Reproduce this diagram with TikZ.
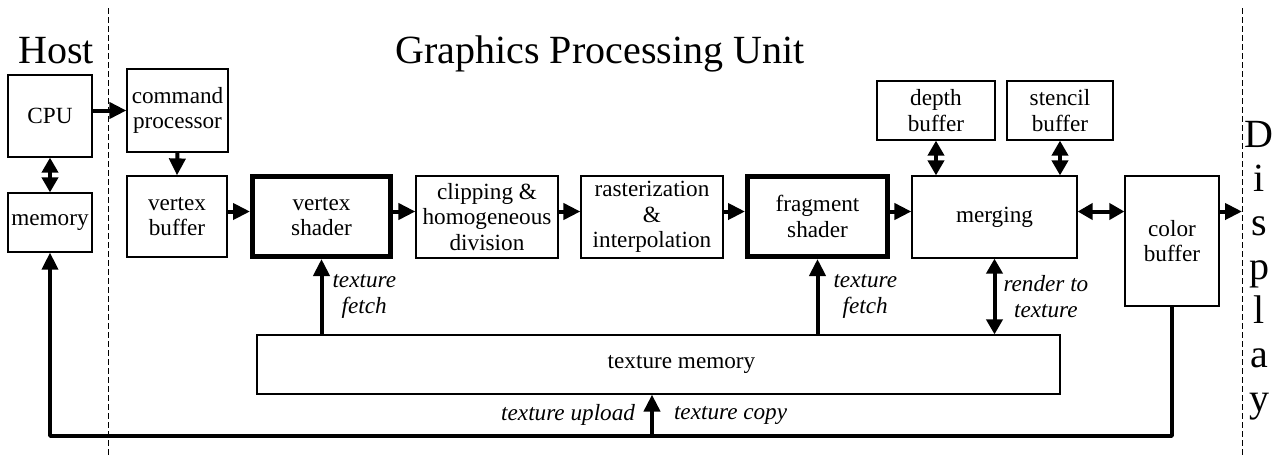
\documentclass[tikz,border=0pt]{standalone}
\usepackage{fontspec}
\setmainfont{Liberation Serif}
\usetikzlibrary{arrows.meta}

\tikzset{
  blk/.style={draw, line width=0.6pt, inner sep=0pt, align=center,
    font=\fontsize{11.6}{12.8}\selectfont},
  shd/.style={blk, line width=2.5pt},
  arr/.style={line width=2pt, -{Triangle[length=8.5pt,width=8pt]}},
  darr/.style={line width=2pt,
    {Triangle[length=7.5pt,width=8pt]}-{Triangle[length=7.5pt,width=8pt]}},
  lbl/.style={inner sep=0pt, align=center,
    font=\fontsize{11.6}{12.8}\selectfont\itshape},
  big/.style={inner sep=0pt, font=\fontsize{20}{24}\selectfont},
  sep/.style={line width=0.5pt, dash pattern=on 3pt off 1.5pt},
}

\begin{document}
\begin{tikzpicture}[x=0.5pt, y=-0.5pt]
\useasboundingbox (0,0) rectangle (1282,457);

% separators and titles
\draw[sep] (108.5,8) -- (108.5,457);
\draw[sep] (1242,8) -- (1242,457);

\node[big, anchor=base] (host) at (56,63) {Host};
\node[big, anchor=base] (gpu) at (600,63) {Graphics Processing Unit};
\foreach \ch [count=\i from 0] in {D,i,s,p,l,a,y}
  \node[big, anchor=base] (dsp\i) at (1259,147+44*\i) {\ch};

% host side
\node[blk, minimum width=42pt, minimum height=41pt] (cpu) at (50,116) {CPU};
\node[blk, minimum width=42pt, minimum height=29.5pt] (mem) at (50,222.5) {memory};

% pipeline
\node[blk, minimum width=50.5pt, minimum height=41.5pt] (cmd) at (177.5,110.5) {command\\processor};
\node[blk, minimum width=50pt, minimum height=40.5pt] (vbuf) at (177,216.5) {vertex\\buffer};
\node[shd, minimum width=69pt, minimum height=40pt] (vsh) at (321.5,216.5) {vertex\\shader};
\node[blk, minimum width=71pt, minimum height=41pt] (clip) at (487,217) {clipping \&\\homogeneous\\division};
\node[blk, minimum width=71pt, minimum height=41pt] (rast) at (652,217) {rasterization\\\&\\interpolation};
\node[shd, minimum width=70pt, minimum height=40pt] (fsh) at (817.5,216.5) {fragment\\shader};
\node[blk, minimum width=82.5pt, minimum height=41pt] (merg) at (994.5,217) {merging};
\node[blk, minimum width=59pt, minimum height=29.5pt] (depth) at (936,110.5) {depth\\buffer};
\node[blk, minimum width=53pt, minimum height=29.5pt] (stencil) at (1060,110.5) {stencil\\buffer};
\node[blk, minimum width=47pt, minimum height=65pt] (color) at (1172,241) {color\\buffer};
\node[blk, minimum width=401.5pt, minimum height=29.5pt] (tex) at (658.5,364.5) {\hspace*{23pt}texture memory};

\coordinate (row) at (0,211.5);
\coordinate (scr) at (1242,211.5);
\coordinate (bus) at (50,436);
\coordinate (up) at (652,436);

% connectors
\draw[arr] (cpu.east |- cmd.west) -- (cmd.west);
\draw[darr] (cpu.south) -- (mem.north);
\draw[arr] (cmd.south) -- (vbuf.north);
\foreach \a/\b in {vbuf/vsh, vsh/clip, clip/rast, rast/fsh, fsh/merg}
  \draw[arr] (row -| \a.east) -- (row -| \b.west);
\draw[darr] (row -| merg.east) -- (row -| color.west);
\draw[arr] (row -| color.east) -- (scr);
\draw[darr] (depth.south) -- (depth.south |- merg.north);
\draw[darr] (stencil.south) -- (stencil.south |- merg.north);

\draw[arr] (vsh.south |- tex.north) -- node[lbl, right=4.5pt] (fetch1) {texture\\fetch} (vsh.south);
\draw[arr] (fsh.south |- tex.north) -- node[lbl, right=7pt] (fetch2) {texture\\fetch} (fsh.south);
\draw[darr] (merg.south) -- node[lbl, right=3.5pt] (rtt) {render to\\texture} (merg.south |- tex.north);

\draw[arr, line width=1.8pt, line join=round] (color.south) |- (bus) -- (mem.south);
\draw[arr] (up) -- node[lbl, left=7.5pt] (upl) {texture upload}
  node[lbl, right=10pt] (cpy) {texture copy} (up |- tex.south);

\end{tikzpicture}
\end{document}
